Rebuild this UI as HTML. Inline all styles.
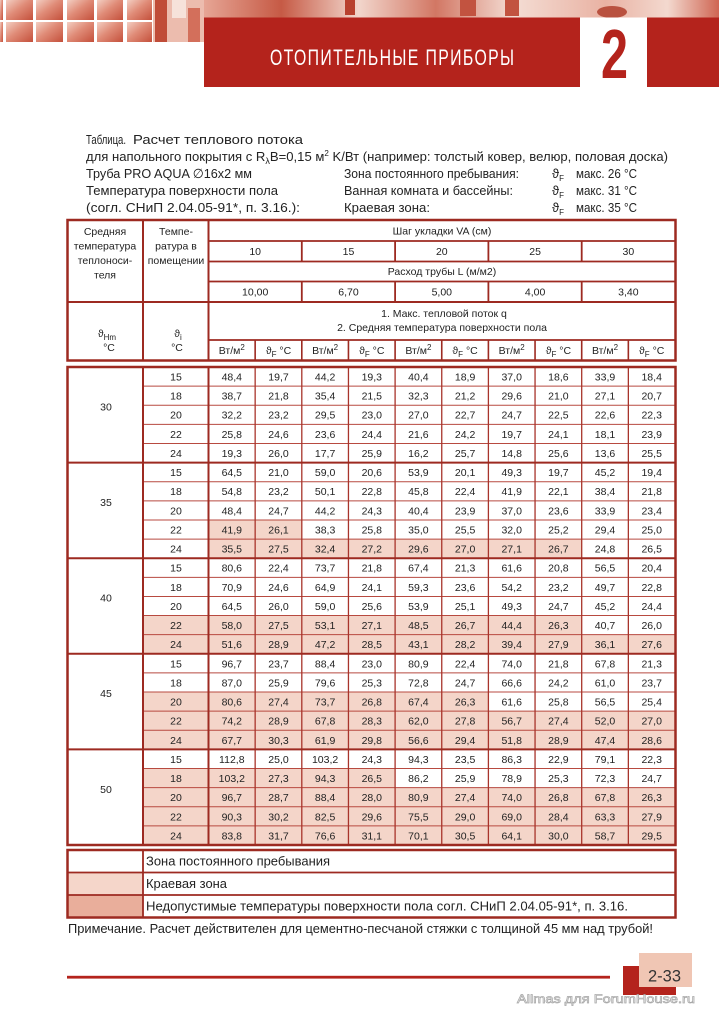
<!DOCTYPE html>
<html><head><meta charset="utf-8"><style>
html,body{margin:0;padding:0;background:#fff;}
svg{display:block;}
text{font-family:"Liberation Sans","DejaVu Sans",sans-serif;}
</style></head><body>
<svg width="719" height="1024" viewBox="0 0 719 1024" xmlns="http://www.w3.org/2000/svg">
<defs>
<linearGradient id="tile" x1="0" y1="0" x2="1" y2="1">
<stop offset="0" stop-color="#f3cfc3"/><stop offset="0.45" stop-color="#e08c78"/><stop offset="1" stop-color="#c4503b"/>
</linearGradient>
<linearGradient id="strip" x1="0" y1="0" x2="1" y2="0">
<stop offset="0" stop-color="#e6a595"/><stop offset="0.15" stop-color="#c65a45"/><stop offset="0.3" stop-color="#f2d6cc"/><stop offset="0.45" stop-color="#d27764"/><stop offset="0.6" stop-color="#f4ddd4"/><stop offset="0.78" stop-color="#e9b2a3"/><stop offset="0.9" stop-color="#f3d9cf"/><stop offset="1" stop-color="#cf6552"/>
</linearGradient>
</defs>

<!-- header photo strip -->
<rect x="0" y="0" width="3" height="20" fill="url(#tile)"/>
<rect x="0" y="22" width="3" height="20" fill="url(#tile)"/>
<rect x="6" y="0" width="27" height="20" fill="url(#tile)"/>
<rect x="36" y="0" width="27" height="20" fill="url(#tile)"/>
<rect x="67" y="0" width="27" height="20" fill="url(#tile)"/>
<rect x="97" y="0" width="26" height="20" fill="url(#tile)"/>
<rect x="127" y="0" width="25" height="20" fill="url(#tile)"/>
<rect x="6" y="22" width="27" height="20" fill="url(#tile)"/>
<rect x="36" y="22" width="27" height="20" fill="url(#tile)"/>
<rect x="67" y="22" width="27" height="20" fill="url(#tile)"/>
<rect x="97" y="22" width="26" height="20" fill="url(#tile)"/>
<rect x="127" y="22" width="25" height="20" fill="url(#tile)"/>
<rect x="153" y="0" width="51" height="42" fill="#ecbcae"/>
<rect x="155" y="0" width="12" height="42" fill="#c04c38"/>
<rect x="172" y="0" width="14" height="18" fill="#f6e2da"/>
<rect x="188" y="8" width="12" height="34" fill="#d36f5b"/>
<rect x="204" y="0" width="515" height="18" fill="url(#strip)"/>
<rect x="345" y="0" width="10" height="15" fill="#b8412f"/>
<rect x="460" y="0" width="16" height="16" fill="#c25340"/>
<rect x="505" y="0" width="14" height="16" fill="#c25340"/>
<ellipse cx="612" cy="12" rx="15" ry="6" fill="#b9513f"/>

<!-- red title bar -->
<rect x="204" y="17.5" width="515" height="69.5" fill="#b4231c"/>
<rect x="580" y="17.5" width="67" height="69.5" fill="#fff"/>
<g transform="translate(270,0) scale(0.72,1)">
<text x="0" y="65" font-size="22" fill="#fff" textLength="339" lengthAdjust="spacing">ОТОПИТЕЛЬНЫЕ ПРИБОРЫ</text>
</g>
<text x="601" y="78" font-size="70" font-weight="bold" fill="#b4231c" textLength="27" lengthAdjust="spacingAndGlyphs">2</text>

<!-- intro text -->
<g font-size="13" fill="#222">
<text x="86" y="144" textLength="40" lengthAdjust="spacingAndGlyphs">Таблица.</text>
<text x="133" y="144" textLength="170" lengthAdjust="spacingAndGlyphs">Расчет теплового потока</text>
<text x="86" y="161" textLength="582" lengthAdjust="spacingAndGlyphs">для напольного покрытия с R<tspan dy="3" font-size="9">λ</tspan><tspan dy="-3">B=0,15 м</tspan><tspan dy="-5" font-size="8">2</tspan><tspan dy="5"> K/Вт (например: толстый ковер, велюр, половая доска)</tspan></text>
<text x="86" y="178" textLength="166" lengthAdjust="spacingAndGlyphs">Труба PRO AQUA ∅16x2 мм</text>
<text x="86" y="195" textLength="192" lengthAdjust="spacingAndGlyphs">Температура поверхности пола</text>
<text x="86" y="212" textLength="214" lengthAdjust="spacingAndGlyphs">(согл. СНиП 2.04.05-91*, п. 3.16.):</text>
<text x="344" y="178" textLength="175" lengthAdjust="spacingAndGlyphs">Зона постоянного пребывания:</text>
<text x="344" y="195" textLength="169" lengthAdjust="spacingAndGlyphs">Ванная комната и бассейны:</text>
<text x="344" y="212" textLength="86" lengthAdjust="spacingAndGlyphs">Краевая зона:</text>
<text x="552" y="178">ϑ<tspan dy="3" font-size="8">F</tspan></text>
<text x="552" y="195">ϑ<tspan dy="3" font-size="8">F</tspan></text>
<text x="552" y="212">ϑ<tspan dy="3" font-size="8">F</tspan></text>
<text x="576" y="178" textLength="61" lengthAdjust="spacingAndGlyphs">макс. 26 °C</text>
<text x="576" y="195" textLength="61" lengthAdjust="spacingAndGlyphs">макс. 31 °C</text>
<text x="576" y="212" textLength="61" lengthAdjust="spacingAndGlyphs">макс. 35 °C</text>
</g>

<!-- header table -->
<g stroke="#9d2a21" fill="none">
<rect x="67.5" y="220" width="608" height="140.5" stroke-width="2.5"/>
<path d="M143 220V360.5M208.5 220V360.5" stroke-width="2"/>
<path d="M67.5 302H675.5" stroke-width="2"/>
<path d="M208.5 241H675.5M208.5 261.5H675.5M208.5 281.5H675.5M208.5 340H675.5" stroke-width="1.8"/>
<path d="M301.8 241V261.5M395.1 241V261.5M488.4 241V261.5M581.7 241V261.5M301.8 281.5V302M395.1 281.5V302M488.4 281.5V302M581.7 281.5V302" stroke-width="1.8"/>
<path d="M255.15 340V360.5M301.8 340V360.5M348.45 340V360.5M395.1 340V360.5M441.75 340V360.5M488.4 340V360.5M535.05 340V360.5M581.7 340V360.5M628.35 340V360.5" stroke-width="1.6"/>
</g>
<g font-size="10.5" fill="#222" text-anchor="middle">
<text x="105" y="235">Средняя</text>
<text x="105" y="249.5">температура</text>
<text x="105" y="264">теплоноси-</text>
<text x="105" y="278.5">теля</text>
<text x="176" y="235">Темпе-</text>
<text x="176" y="249.5">ратура в</text>
<text x="176" y="264">помещении</text>
<text x="107" y="337">ϑ<tspan dy="3" font-size="8">Hm</tspan></text>
<text x="109" y="351">°C</text>
<text x="178" y="337">ϑ<tspan dy="3" font-size="8">i</tspan></text>
<text x="177" y="351">°C</text>
<text x="442" y="234.5">Шаг укладки VA (см)</text>
<text y="255"><tspan x="255.2">10</tspan><tspan x="348.5">15</tspan><tspan x="441.8">20</tspan><tspan x="535.1">25</tspan><tspan x="628.4">30</tspan></text>
<text x="442" y="275">Расход трубы L (м/м2)</text>
<text y="295.5"><tspan x="255.2">10,00</tspan><tspan x="348.5">6,70</tspan><tspan x="441.8">5,00</tspan><tspan x="535.1">4,00</tspan><tspan x="628.4">3,40</tspan></text>
<text x="444" y="317">1. Макс. тепловой поток q</text>
<text x="442" y="331">2. Средняя температура поверхности пола</text>
<text x="231.8" y="354">Вт/м<tspan dy="-4" font-size="8">2</tspan></text>
<text x="278.5" y="354">ϑ<tspan dy="3" font-size="8">F</tspan><tspan dy="-3"> °C</tspan></text>
<text x="325.1" y="354">Вт/м<tspan dy="-4" font-size="8">2</tspan></text>
<text x="371.8" y="354">ϑ<tspan dy="3" font-size="8">F</tspan><tspan dy="-3"> °C</tspan></text>
<text x="418.4" y="354">Вт/м<tspan dy="-4" font-size="8">2</tspan></text>
<text x="465.1" y="354">ϑ<tspan dy="3" font-size="8">F</tspan><tspan dy="-3"> °C</tspan></text>
<text x="511.7" y="354">Вт/м<tspan dy="-4" font-size="8">2</tspan></text>
<text x="558.4" y="354">ϑ<tspan dy="3" font-size="8">F</tspan><tspan dy="-3"> °C</tspan></text>
<text x="605" y="354">Вт/м<tspan dy="-4" font-size="8">2</tspan></text>
<text x="651.7" y="354">ϑ<tspan dy="3" font-size="8">F</tspan><tspan dy="-3"> °C</tspan></text>
</g>

<!-- data table pink fills -->
<g fill="#f4d5c9">
<rect x="208.5" y="519.96" width="93.3" height="19.12"/>
<rect x="208.5" y="539.08" width="373.2" height="19.12"/>
<rect x="143" y="615.56" width="438.7" height="19.12"/>
<rect x="143" y="634.68" width="532.5" height="19.12"/>
<rect x="143" y="692.04" width="345.4" height="19.12"/>
<rect x="143" y="711.16" width="532.5" height="38.24"/>
<rect x="143" y="768.52" width="252.1" height="19.12"/>
<rect x="143" y="787.64" width="532.5" height="57.36"/>
</g>

<!-- data table lines -->
<g fill="none">
<path stroke="#b84a40" stroke-width="1" d="M143 386.12H675.5M143 405.24H675.5M143 424.36H675.5M143 443.48H675.5M143 481.72H675.5M143 500.84H675.5M143 519.96H675.5M143 539.08H675.5M143 577.32H675.5M143 596.44H675.5M143 615.56H675.5M143 634.68H675.5M143 672.92H675.5M143 692.04H675.5M143 711.16H675.5M143 730.28H675.5M143 768.52H675.5M143 787.64H675.5M143 806.76H675.5M143 825.88H675.5"/>
<path stroke="#a8342b" stroke-width="1.3" d="M255.15 367V845M301.8 367V845M348.45 367V845M395.1 367V845M441.75 367V845M488.4 367V845M535.05 367V845M581.7 367V845M628.35 367V845"/>
<path stroke="#9d2a21" stroke-width="2" d="M143 367V845M208.5 367V845M67.5 462.6H675.5M67.5 558.2H675.5M67.5 653.8H675.5M67.5 749.4H675.5"/>
<rect x="67.5" y="367" width="608" height="478" stroke="#9d2a21" stroke-width="2.5"/>
</g>

<!-- data table text -->
<g font-size="10.5" fill="#222" text-anchor="middle">
<text x="106" y="410.5">30</text>
<text x="106" y="506">35</text>
<text x="106" y="601.7">40</text>
<text x="106" y="697.2">45</text>
<text x="106" y="792.8">50</text>

<text x="176" y="380.5">15</text><text x="176" y="399.6">18</text><text x="176" y="418.7">20</text><text x="176" y="437.9">22</text><text x="176" y="457">24</text>
<text x="176" y="476.1">15</text><text x="176" y="495.2">18</text><text x="176" y="514.3">20</text><text x="176" y="533.5">22</text><text x="176" y="552.6">24</text>
<text x="176" y="571.7">15</text><text x="176" y="590.8">18</text><text x="176" y="609.9">20</text><text x="176" y="629.1">22</text><text x="176" y="648.2">24</text>
<text x="176" y="667.3">15</text><text x="176" y="686.4">18</text><text x="176" y="705.5">20</text><text x="176" y="724.7">22</text><text x="176" y="743.8">24</text>
<text x="176" y="762.9">15</text><text x="176" y="782">18</text><text x="176" y="801.1">20</text><text x="176" y="820.3">22</text><text x="176" y="839.4">24</text>

<text y="380.5"><tspan x="231.8">48,4</tspan><tspan x="278.5">19,7</tspan><tspan x="325.1">44,2</tspan><tspan x="371.8">19,3</tspan><tspan x="418.4">40,4</tspan><tspan x="465.1">18,9</tspan><tspan x="511.7">37,0</tspan><tspan x="558.4">18,6</tspan><tspan x="605">33,9</tspan><tspan x="651.7">18,4</tspan></text>
<text y="399.6"><tspan x="231.8">38,7</tspan><tspan x="278.5">21,8</tspan><tspan x="325.1">35,4</tspan><tspan x="371.8">21,5</tspan><tspan x="418.4">32,3</tspan><tspan x="465.1">21,2</tspan><tspan x="511.7">29,6</tspan><tspan x="558.4">21,0</tspan><tspan x="605">27,1</tspan><tspan x="651.7">20,7</tspan></text>
<text y="418.7"><tspan x="231.8">32,2</tspan><tspan x="278.5">23,2</tspan><tspan x="325.1">29,5</tspan><tspan x="371.8">23,0</tspan><tspan x="418.4">27,0</tspan><tspan x="465.1">22,7</tspan><tspan x="511.7">24,7</tspan><tspan x="558.4">22,5</tspan><tspan x="605">22,6</tspan><tspan x="651.7">22,3</tspan></text>
<text y="437.9"><tspan x="231.8">25,8</tspan><tspan x="278.5">24,6</tspan><tspan x="325.1">23,6</tspan><tspan x="371.8">24,4</tspan><tspan x="418.4">21,6</tspan><tspan x="465.1">24,2</tspan><tspan x="511.7">19,7</tspan><tspan x="558.4">24,1</tspan><tspan x="605">18,1</tspan><tspan x="651.7">23,9</tspan></text>
<text y="457"><tspan x="231.8">19,3</tspan><tspan x="278.5">26,0</tspan><tspan x="325.1">17,7</tspan><tspan x="371.8">25,9</tspan><tspan x="418.4">16,2</tspan><tspan x="465.1">25,7</tspan><tspan x="511.7">14,8</tspan><tspan x="558.4">25,6</tspan><tspan x="605">13,6</tspan><tspan x="651.7">25,5</tspan></text>

<text y="476.1"><tspan x="231.8">64,5</tspan><tspan x="278.5">21,0</tspan><tspan x="325.1">59,0</tspan><tspan x="371.8">20,6</tspan><tspan x="418.4">53,9</tspan><tspan x="465.1">20,1</tspan><tspan x="511.7">49,3</tspan><tspan x="558.4">19,7</tspan><tspan x="605">45,2</tspan><tspan x="651.7">19,4</tspan></text>
<text y="495.2"><tspan x="231.8">54,8</tspan><tspan x="278.5">23,2</tspan><tspan x="325.1">50,1</tspan><tspan x="371.8">22,8</tspan><tspan x="418.4">45,8</tspan><tspan x="465.1">22,4</tspan><tspan x="511.7">41,9</tspan><tspan x="558.4">22,1</tspan><tspan x="605">38,4</tspan><tspan x="651.7">21,8</tspan></text>
<text y="514.3"><tspan x="231.8">48,4</tspan><tspan x="278.5">24,7</tspan><tspan x="325.1">44,2</tspan><tspan x="371.8">24,3</tspan><tspan x="418.4">40,4</tspan><tspan x="465.1">23,9</tspan><tspan x="511.7">37,0</tspan><tspan x="558.4">23,6</tspan><tspan x="605">33,9</tspan><tspan x="651.7">23,4</tspan></text>
<text y="533.5"><tspan x="231.8">41,9</tspan><tspan x="278.5">26,1</tspan><tspan x="325.1">38,3</tspan><tspan x="371.8">25,8</tspan><tspan x="418.4">35,0</tspan><tspan x="465.1">25,5</tspan><tspan x="511.7">32,0</tspan><tspan x="558.4">25,2</tspan><tspan x="605">29,4</tspan><tspan x="651.7">25,0</tspan></text>
<text y="552.6"><tspan x="231.8">35,5</tspan><tspan x="278.5">27,5</tspan><tspan x="325.1">32,4</tspan><tspan x="371.8">27,2</tspan><tspan x="418.4">29,6</tspan><tspan x="465.1">27,0</tspan><tspan x="511.7">27,1</tspan><tspan x="558.4">26,7</tspan><tspan x="605">24,8</tspan><tspan x="651.7">26,5</tspan></text>

<text y="571.7"><tspan x="231.8">80,6</tspan><tspan x="278.5">22,4</tspan><tspan x="325.1">73,7</tspan><tspan x="371.8">21,8</tspan><tspan x="418.4">67,4</tspan><tspan x="465.1">21,3</tspan><tspan x="511.7">61,6</tspan><tspan x="558.4">20,8</tspan><tspan x="605">56,5</tspan><tspan x="651.7">20,4</tspan></text>
<text y="590.8"><tspan x="231.8">70,9</tspan><tspan x="278.5">24,6</tspan><tspan x="325.1">64,9</tspan><tspan x="371.8">24,1</tspan><tspan x="418.4">59,3</tspan><tspan x="465.1">23,6</tspan><tspan x="511.7">54,2</tspan><tspan x="558.4">23,2</tspan><tspan x="605">49,7</tspan><tspan x="651.7">22,8</tspan></text>
<text y="609.9"><tspan x="231.8">64,5</tspan><tspan x="278.5">26,0</tspan><tspan x="325.1">59,0</tspan><tspan x="371.8">25,6</tspan><tspan x="418.4">53,9</tspan><tspan x="465.1">25,1</tspan><tspan x="511.7">49,3</tspan><tspan x="558.4">24,7</tspan><tspan x="605">45,2</tspan><tspan x="651.7">24,4</tspan></text>
<text y="629.1"><tspan x="231.8">58,0</tspan><tspan x="278.5">27,5</tspan><tspan x="325.1">53,1</tspan><tspan x="371.8">27,1</tspan><tspan x="418.4">48,5</tspan><tspan x="465.1">26,7</tspan><tspan x="511.7">44,4</tspan><tspan x="558.4">26,3</tspan><tspan x="605">40,7</tspan><tspan x="651.7">26,0</tspan></text>
<text y="648.2"><tspan x="231.8">51,6</tspan><tspan x="278.5">28,9</tspan><tspan x="325.1">47,2</tspan><tspan x="371.8">28,5</tspan><tspan x="418.4">43,1</tspan><tspan x="465.1">28,2</tspan><tspan x="511.7">39,4</tspan><tspan x="558.4">27,9</tspan><tspan x="605">36,1</tspan><tspan x="651.7">27,6</tspan></text>

<text y="667.3"><tspan x="231.8">96,7</tspan><tspan x="278.5">23,7</tspan><tspan x="325.1">88,4</tspan><tspan x="371.8">23,0</tspan><tspan x="418.4">80,9</tspan><tspan x="465.1">22,4</tspan><tspan x="511.7">74,0</tspan><tspan x="558.4">21,8</tspan><tspan x="605">67,8</tspan><tspan x="651.7">21,3</tspan></text>
<text y="686.4"><tspan x="231.8">87,0</tspan><tspan x="278.5">25,9</tspan><tspan x="325.1">79,6</tspan><tspan x="371.8">25,3</tspan><tspan x="418.4">72,8</tspan><tspan x="465.1">24,7</tspan><tspan x="511.7">66,6</tspan><tspan x="558.4">24,2</tspan><tspan x="605">61,0</tspan><tspan x="651.7">23,7</tspan></text>
<text y="705.5"><tspan x="231.8">80,6</tspan><tspan x="278.5">27,4</tspan><tspan x="325.1">73,7</tspan><tspan x="371.8">26,8</tspan><tspan x="418.4">67,4</tspan><tspan x="465.1">26,3</tspan><tspan x="511.7">61,6</tspan><tspan x="558.4">25,8</tspan><tspan x="605">56,5</tspan><tspan x="651.7">25,4</tspan></text>
<text y="724.7"><tspan x="231.8">74,2</tspan><tspan x="278.5">28,9</tspan><tspan x="325.1">67,8</tspan><tspan x="371.8">28,3</tspan><tspan x="418.4">62,0</tspan><tspan x="465.1">27,8</tspan><tspan x="511.7">56,7</tspan><tspan x="558.4">27,4</tspan><tspan x="605">52,0</tspan><tspan x="651.7">27,0</tspan></text>
<text y="743.8"><tspan x="231.8">67,7</tspan><tspan x="278.5">30,3</tspan><tspan x="325.1">61,9</tspan><tspan x="371.8">29,8</tspan><tspan x="418.4">56,6</tspan><tspan x="465.1">29,4</tspan><tspan x="511.7">51,8</tspan><tspan x="558.4">28,9</tspan><tspan x="605">47,4</tspan><tspan x="651.7">28,6</tspan></text>

<text y="762.9"><tspan x="231.8">112,8</tspan><tspan x="278.5">25,0</tspan><tspan x="325.1">103,2</tspan><tspan x="371.8">24,3</tspan><tspan x="418.4">94,3</tspan><tspan x="465.1">23,5</tspan><tspan x="511.7">86,3</tspan><tspan x="558.4">22,9</tspan><tspan x="605">79,1</tspan><tspan x="651.7">22,3</tspan></text>
<text y="782"><tspan x="231.8">103,2</tspan><tspan x="278.5">27,3</tspan><tspan x="325.1">94,3</tspan><tspan x="371.8">26,5</tspan><tspan x="418.4">86,2</tspan><tspan x="465.1">25,9</tspan><tspan x="511.7">78,9</tspan><tspan x="558.4">25,3</tspan><tspan x="605">72,3</tspan><tspan x="651.7">24,7</tspan></text>
<text y="801.1"><tspan x="231.8">96,7</tspan><tspan x="278.5">28,7</tspan><tspan x="325.1">88,4</tspan><tspan x="371.8">28,0</tspan><tspan x="418.4">80,9</tspan><tspan x="465.1">27,4</tspan><tspan x="511.7">74,0</tspan><tspan x="558.4">26,8</tspan><tspan x="605">67,8</tspan><tspan x="651.7">26,3</tspan></text>
<text y="820.3"><tspan x="231.8">90,3</tspan><tspan x="278.5">30,2</tspan><tspan x="325.1">82,5</tspan><tspan x="371.8">29,6</tspan><tspan x="418.4">75,5</tspan><tspan x="465.1">29,0</tspan><tspan x="511.7">69,0</tspan><tspan x="558.4">28,4</tspan><tspan x="605">63,3</tspan><tspan x="651.7">27,9</tspan></text>
<text y="839.4"><tspan x="231.8">83,8</tspan><tspan x="278.5">31,7</tspan><tspan x="325.1">76,6</tspan><tspan x="371.8">31,1</tspan><tspan x="418.4">70,1</tspan><tspan x="465.1">30,5</tspan><tspan x="511.7">64,1</tspan><tspan x="558.4">30,0</tspan><tspan x="605">58,7</tspan><tspan x="651.7">29,5</tspan></text>
</g>

<!-- legend -->
<rect x="67.5" y="872.5" width="75.5" height="22.5" fill="#f5d6ca"/>
<rect x="67.5" y="895" width="75.5" height="22.5" fill="#e9ae9b"/>
<g fill="none" stroke="#9d2a21">
<path d="M143 850V917.5M67.5 872.5H675.5M67.5 895H675.5" stroke-width="1.8"/>
<rect x="67.5" y="850" width="608" height="67.5" stroke-width="2.5"/>
</g>
<g font-size="13" fill="#222">
<text x="146" y="865.5" textLength="184" lengthAdjust="spacingAndGlyphs">Зона постоянного пребывания</text>
<text x="146" y="888" textLength="81" lengthAdjust="spacingAndGlyphs">Краевая зона</text>
<text x="146" y="910.5" textLength="482" lengthAdjust="spacingAndGlyphs">Недопустимые температуры поверхности пола согл. СНиП 2.04.05-91*, п. 3.16.</text>
<text x="68" y="933" textLength="585" lengthAdjust="spacingAndGlyphs">Примечание. Расчет действителен для цементно-песчаной стяжки с толщиной 45 мм над трубой!</text>
</g>

<!-- footer -->
<rect x="67" y="975.8" width="543" height="2.8" fill="#b4231c"/>
<rect x="623" y="966" width="53" height="29" fill="#b4231c"/>
<rect x="639" y="953" width="53" height="34" fill="#f0c6b4"/>
<text x="648" y="981.5" font-size="17" fill="#333" textLength="33" lengthAdjust="spacingAndGlyphs">2-33</text>
<text x="517" y="1003" font-size="12" fill="#fff" stroke="#a9a9a9" stroke-width="0.7" textLength="178" lengthAdjust="spacingAndGlyphs">Allmas для ForumHouse.ru</text>
</svg>
</body></html>
